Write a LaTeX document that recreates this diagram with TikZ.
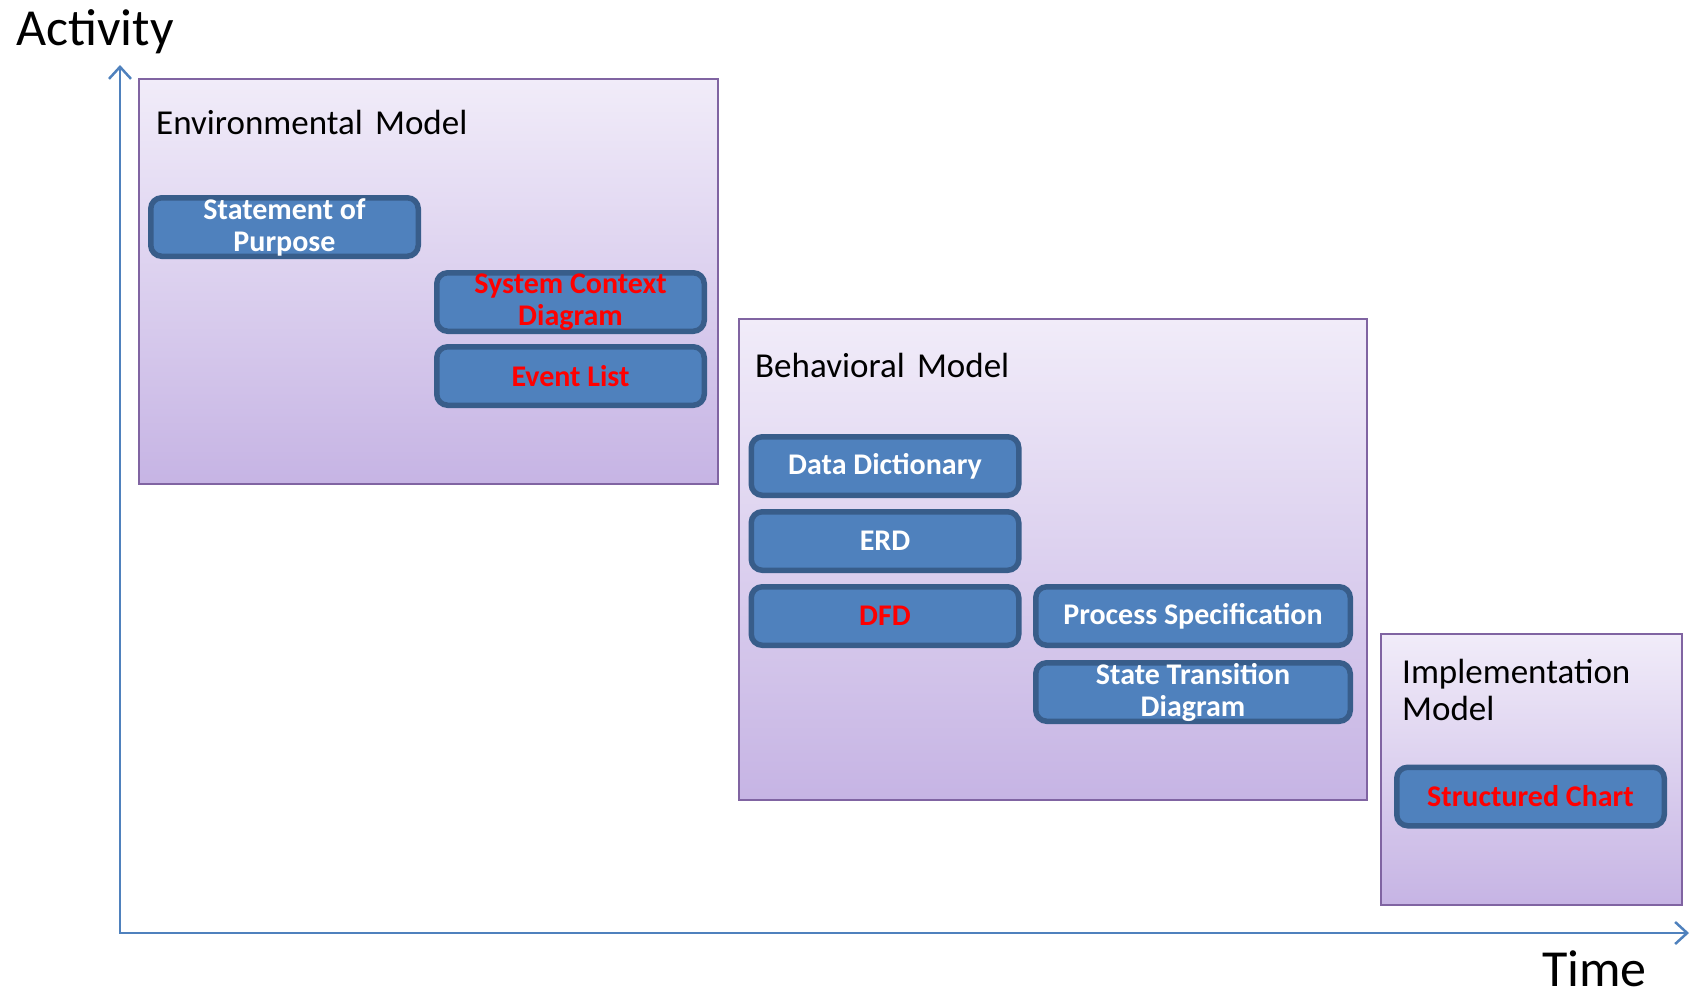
\documentclass[tikz,border=0pt]{standalone}
\usepackage{fontspec}
\setmainfont{Carlito}
\usetikzlibrary{arrows.meta}
\definecolor{boxfill}{RGB}{79,129,189}
\definecolor{boxline}{RGB}{56,93,138}
\definecolor{modline}{RGB}{128,100,162}
\definecolor{modtop}{RGB}{241,236,249}
\definecolor{modbot}{RGB}{198,180,228}
\definecolor{axiscol}{RGB}{79,129,189}
\definecolor{redtxt}{RGB}{255,0,0}
\begin{document}
\begin{tikzpicture}[x=1pt,y=-1pt,
  modelbox/.style={draw=modline, line width=2pt, top color=modtop, bottom color=modbot,
    anchor=north west, inner sep=0pt},
  item/.style={draw=boxline, line width=5.5pt, fill=boxfill, rounded corners=11pt,
    text=white, font=\fontsize{30}{32}\selectfont\bfseries, align=center,
    minimum width=267.5pt, minimum height=58.5pt, inner sep=0pt},
  hot/.style={text=redtxt},
  modeltitle/.style={anchor=base west, font=\fontsize{35}{37}\selectfont, inner sep=0pt, align=left},
  bigtitle/.style={anchor=base west, font=\fontsize{52}{52}\selectfont, inner sep=0pt, text depth=0pt},
  axisline/.style={draw=axiscol, line width=2.5pt,
    {Straight Barb[length=12pt,width=22pt,line width=2.5pt]}-{Straight Barb[length=12pt,width=22pt,line width=2.5pt]}}
]
\useasboundingbox (0,0) rectangle (1690,994);

% axes
\coordinate (ytip) at (120,65);
\coordinate (origin) at (120,933);
\coordinate (xtip) at (1689,933);
\draw[axisline] (ytip) -- (origin) -- (xtip);
\node[bigtitle] (activity) at (16,45) {Activity};
\node[bigtitle] (time) at (1542,986) {Time};

% model boxes
\node[modelbox, minimum width=579pt, minimum height=405pt] (env) at (138,78) {};
\node[modelbox, minimum width=628pt, minimum height=481pt] (beh) at (738,318) {};
\node[modelbox, minimum width=301pt, minimum height=271pt] (impl) at (1380,633) {};

\node[modeltitle] (envtitle) at (156,134) {Environmental\hspace{0.35em}Model};
\node[modeltitle] (behtitle) at (755,377) {Behavioral\hspace{0.35em}Model};
\node[modeltitle] (impltitle) at (1402,720) {Implementation\\Model};

% items
\node[item] (sop) at (284.5,227) {Statement of\\Purpose};
\node[item, hot] (scd) at (570.5,302) {System Context\\Diagram};
\node[item, hot] (el) at (570.5,376) {Event List};

\node[item] (dd) at (885,466) {Data Dictionary};
\node[item] (erd) at (885,541) {ERD};
\node[item, hot] (dfd) at (885,616) {DFD};
\node[item, minimum width=314.5pt] (ps) at (1193,616) {Process Specification};
\node[item, minimum width=314.5pt] (std) at (1193,692) {State Transition\\Diagram};

\node[item, hot] (sc) at (1530.5,796.5) {Structured Chart};
\end{tikzpicture}
\end{document}
